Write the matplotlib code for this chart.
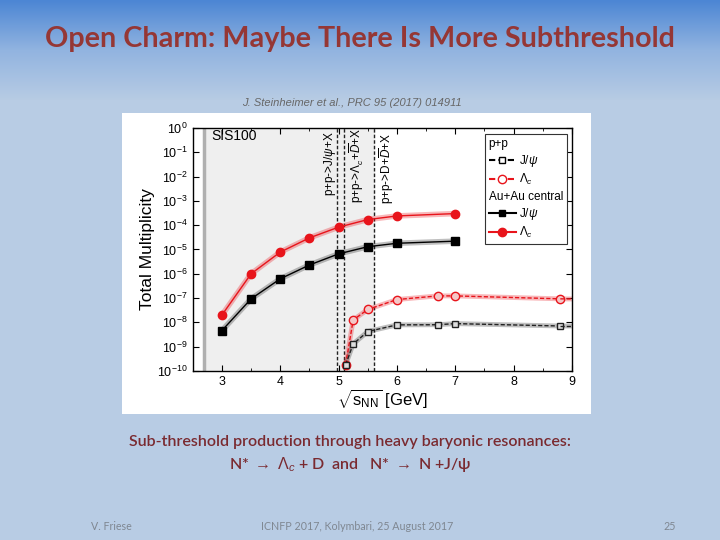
import numpy as np
import matplotlib.pyplot as plt
from matplotlib.lines import Line2D
from matplotlib.patches import Rectangle

plt.rcParams['font.family'] = ['Liberation Sans', 'DejaVu Sans']
plt.rcParams['mathtext.fontset'] = 'custom'
plt.rcParams['mathtext.rm'] = 'Liberation Sans'
plt.rcParams['mathtext.it'] = 'Liberation Sans:italic'
plt.rcParams['mathtext.bf'] = 'Liberation Sans:bold'
plt.rcParams['axes.unicode_minus'] = False

# Au+Au central
aa_x = [3.0, 3.5, 4.0, 4.5, 5.0, 5.5, 6.0, 7.0]
aa_lc = [2.0e-8, 1.0e-6, 7.8e-6, 3.0e-5, 8.3e-5, 1.7e-4, 2.4e-4, 3.0e-4]
aa_jpsi = [4.6e-9, 9.3e-8, 6.2e-7, 2.3e-6, 6.6e-6, 1.3e-5, 1.8e-5, 2.2e-5]

# p+p
pp_x = [5.12, 5.25, 5.5, 6.0, 6.7, 7.0, 8.8, 9.0]
pp_lc = [1.8e-10, 1.26e-8, 3.4e-8, 8.7e-8, 1.23e-7, 1.23e-7, 9.3e-8, 9.2e-8]
pp_jpsi = [1.8e-10, 1.3e-9, 4.2e-9, 7.9e-9, 8.0e-9, 8.9e-9, 7.1e-9, 7.1e-9]

thresholds = [4.97, 5.09, 5.6]
sis100_start = 2.7

red = '#e8141b'
title_red = '#953735'

fig = plt.figure(figsize=(7.2, 5.4), dpi=100)

# slide background
bg = fig.add_axes([0, 0, 1, 1])
top = np.array([0x4c, 0x86, 0xd4]) / 255
mid = np.array([0x92, 0xb4, 0xe0]) / 255
low = np.array([0xb8, 0xcc, 0xe4]) / 255
grad = np.zeros((540, 1, 3))
for i in range(540):
    y = float(i)
    if y < 50:
        c = top + (mid - top) * (y / 50)
    elif y < 100:
        c = mid + (low - mid) * ((y - 50) / 50)
    else:
        c = low
    grad[i, 0] = c
bg.imshow(grad, aspect='auto', extent=[0, 1, 1, 0])
bg.set_xlim(0, 1)
bg.set_ylim(1, 0)
bg.axis('off')

# white image box
fig.patches.append(Rectangle((122 / 720, 1 - 414 / 540), (591 - 122) / 720, (414 - 113) / 540,
                             transform=fig.transFigure, facecolor='white', edgecolor='none', zorder=1))

fig.text(360 / 720, 1 - 39 / 540, 'Open Charm: Maybe There Is More Subthreshold', ha='center', va='center',
         fontsize=20.7, fontweight='bold', color=title_red, family='Lato')
fig.text(352 / 720, 1 - 103 / 540, 'J. Steinheimer et al., PRC 95 (2017) 014911', ha='center', va='center',
         fontsize=8, style='italic', color='#666666')

ax = fig.add_axes([0.2677, 0.313, 0.5267, 0.45])
ax.set_zorder(2)
ax.axvspan(sis100_start, thresholds[2], color='#efefef', zorder=0)
ax.axvline(sis100_start, color='#b0b0b0', lw=2.5, zorder=1)
for xv in thresholds:
    ax.axvline(xv, color='#222222', lw=1.0, ls=(0, (2.5, 1.5)), zorder=1)

# bands
ax.plot(aa_x, aa_lc, color=red, lw=4, alpha=0.3, zorder=2)
ax.plot(aa_x, aa_jpsi, color='k', lw=4, alpha=0.25, zorder=2)
ax.plot(pp_x, pp_lc, color=red, lw=3.5, alpha=0.3, zorder=2)
ax.plot(pp_x, pp_jpsi, color='k', lw=3.5, alpha=0.25, zorder=2)

ax.plot(aa_x, aa_lc, color=red, lw=1.0, marker='o', ms=6, zorder=4)
ax.plot(aa_x, aa_jpsi, color='k', lw=1.0, marker='s', ms=5.5, zorder=4)
ax.plot(pp_x[:-1], pp_lc[:-1], color=red, lw=1.0, ls=(0, (3, 1.5)), marker='o', ms=6,
        mfc='#f4c8c8', mec=red, zorder=4)
ax.plot(pp_x[-2:], pp_lc[-2:], color=red, lw=1.0, ls=(0, (3, 1.5)), zorder=4)
ax.plot(pp_x[:-1], pp_jpsi[:-1], color='#222222', lw=1.0, ls=(0, (3, 1.5)), marker='s', ms=5,
        mfc='#dddddd', mec='#222222', zorder=4)
ax.plot(pp_x[-2:], pp_jpsi[-2:], color='#222222', lw=1.0, ls=(0, (3, 1.5)), zorder=4)

ax.set_yscale('log')
ax.set_xlim(2.5, 9)
ax.set_ylim(1e-10, 1)
ax.set_xticks([3, 4, 5, 6, 7, 8, 9])
ax.set_xticks(np.arange(2.5, 9.01, 0.5), minor=True)
ax.set_yticks([10.0 ** -k for k in range(0, 11)])
ax.set_yticklabels([r'$10^{%d}$' % (-k) if k else r'$10^{0}$' for k in range(0, 11)])
ax.tick_params(which='both', direction='in', top=True, right=True, labelsize=9)
ax.tick_params(which='major', length=4)
ax.tick_params(which='minor', length=2)
ax.tick_params(axis='y', which='minor', left=False, right=False)
for s in ax.spines.values():
    s.set_linewidth(1.0)
ax.set_ylabel('Total Multiplicity', fontsize=12.5, labelpad=2)
ax.set_xlabel(r'$\sqrt{\mathrm{s}_{\mathrm{NN}}}$ [GeV]', fontsize=12, labelpad=0)

ax.text(2.82, 0.45, 'SIS100', fontsize=10, va='center', ha='left')
ax.text(4.85, 0.75, r'p+p->J/$\psi$+X', rotation=90, fontsize=8.5, ha='center', va='top')
ax.text(5.31, 0.95, r'p+p->$\Lambda_c$+$\overline{D}$+X', rotation=90, fontsize=8.5, ha='center', va='top')
ax.text(5.83, 0.6, r'p+p->D+$\overline{D}$+X', rotation=90, fontsize=8.5, ha='center', va='top')

handles = [
    Line2D([], [], color='none'),
    Line2D([], [], color='k', ls=(0, (3, 1.5)), marker='s', mfc='white', mec='k', ms=5),
    Line2D([], [], color=red, ls=(0, (3, 1.5)), marker='o', mfc='white', mec=red, ms=6),
    Line2D([], [], color='none'),
    Line2D([], [], color='k', marker='s', ms=5),
    Line2D([], [], color=red, marker='o', ms=6),
]
labels = ['p+p', r'J/$\psi$', r'$\Lambda_c$', 'Au+Au central', r'J/$\psi$', r'$\Lambda_c$']
leg = ax.legend(handles, labels, loc='upper right', bbox_to_anchor=(0.986, 0.975), borderaxespad=0,
                fontsize=8.5, frameon=True, fancybox=False, framealpha=1, edgecolor='#333333',
                handlelength=2.3, handletextpad=0.3, labelspacing=0.28, borderpad=0.3)
leg.get_frame().set_linewidth(0.8)
rows = leg._legend_handle_box.get_children()[0].get_children()
for i in (0, 3):
    rows[i].get_children()[0].set_width(0)
    rows[i].sep = 0

cap_kw = dict(ha='center', va='center', fontsize=11.5, color='#7a2a30', fontweight='semibold')
fig.text(350 / 720, 1 - 442 / 540, 'Sub-threshold production through heavy baryonic resonances:',
         family='Lato', **cap_kw)
fig.text(350 / 720, 1 - 465 / 540, r'N* $\rightarrow$ $\Lambda_c$ + D  and   N* $\rightarrow$ N +J/ψ',
         family=['Lato', 'DejaVu Sans'], **cap_kw)

foot_kw = dict(va='center', fontsize=7.7, color='#7f8791', family='Lato')
fig.text(91 / 720, 1 - 526 / 540, 'V. Friese', ha='left', **foot_kw)
fig.text(357 / 720, 1 - 526 / 540, 'ICNFP 2017, Kolymbari, 25 August 2017', ha='center', **foot_kw)
fig.text(676 / 720, 1 - 526 / 540, '25', ha='right', **foot_kw)

fig.savefig('out.png', dpi=100)
